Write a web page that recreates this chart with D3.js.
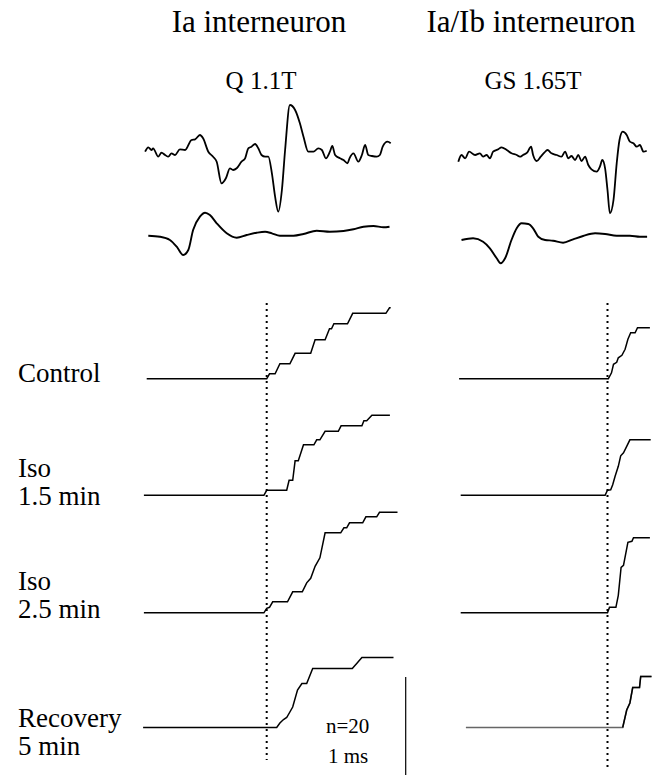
<!DOCTYPE html>
<html><head><meta charset="utf-8">
<script src="https://cdn.jsdelivr.net/npm/d3@7"></script>
<style>body{margin:0;background:#fff}svg{display:block}</style>
</head><body><svg id="c" width="653" height="775"></svg>
<script>
// ---- DATA (time in ms relative to dotted reference line) ----
const columns = ["Ia interneuron", "Ia/Ib interneuron"];
const stimuli = ["Q 1.1T", "GS 1.65T"];
const conditions = [["Control"], ["Iso", "1.5 min"], ["Iso", "2.5 min"], ["Recovery", "5 min"]];
const nResponses = 20;

// unit recordings (arbitrary amplitude units)
const iaUnit = [[-3.04,0.3],[-2.96,4.7],[-2.88,2],[-2.84,3.7],[-2.71,-4.7],[-2.63,-0.7],[-2.54,-3],[-2.46,-4.7],[-2.38,-1.3],[-2.29,-3],[-2.17,2.7],[-2.04,2],[-1.88,12],[-1.79,12.7],[-1.67,17],[-1.59,13.7],[-1.46,0.3],[-1.34,-4.7],[-1.25,-9.7],[-1.13,-31.3],[-1.02,-26.3],[-0.92,-16.3],[-0.84,-18],[-0.75,-16.3],[-0.63,-9.7],[-0.54,-6.3],[-0.46,3.7],[-0.38,5.3],[-0.29,8],[-0.21,3.7],[-0.13,-3],[-0.04,-4.7],[0.04,-4.7],[0.13,-21.3],[0.21,-44.7],[0.29,-59.7],[0.38,-38],[0.46,2],[0.58,47],[0.71,42],[0.83,28.7],[0.92,15.3],[1.04,0.3],[1.17,0.3],[1.29,3.7],[1.38,2],[1.48,-6.3],[1.58,0.3],[1.64,6],[1.71,-3],[1.83,-6.3],[1.92,-8],[2.02,-11.3],[2.07,-6.3],[2.17,-1.3],[2.29,-9.7],[2.38,-3],[2.46,7],[2.54,-3],[2.63,-4],[2.75,-4.7],[2.83,-3],[2.9,5.3],[3.02,10.3],[3.1,8.7]];
const iaVolley = [[-2.96,0.3],[-2.67,-0.7],[-2.42,-4],[-2.25,-10.7],[-2.09,-19],[-1.96,-14],[-1.84,6],[-1.67,19.3],[-1.54,23.3],[-1.42,21],[-1.25,12.7],[-1.0,2.7],[-0.75,-1.7],[-0.5,1],[-0.25,3.3],[-0.04,4.3],[0.13,2.7],[0.33,0.3],[0.67,0.3],[0.92,2],[1.25,5.3],[1.58,4.3],[1.92,5],[2.17,6.7],[2.42,9.3],[2.67,10],[2.92,8.7],[3.07,9.3]];
const iaibUnit = [[-3.73,-6.7],[-3.65,0],[-3.56,-3.3],[-3.46,3.3],[-3.31,0],[-3.19,1.7],[-3.11,-1.7],[-3.02,0],[-2.94,-3.3],[-2.86,3.3],[-2.73,5.7],[-2.65,7.7],[-2.52,5],[-2.4,1.7],[-2.27,0],[-2.19,-1.7],[-2.11,0],[-2.01,2.3],[-1.91,8.3],[-1.86,0],[-1.77,-6],[-1.67,-1.7],[-1.58,2.3],[-1.5,5],[-1.4,1.7],[-1.27,0],[-1.15,-1.7],[-1.06,3.3],[-0.98,-3.3],[-0.9,-1],[-0.81,-5],[-0.73,0],[-0.65,-6],[-0.56,-1.7],[-0.48,-10],[-0.4,-14.3],[-0.27,-16.7],[-0.19,-11.7],[-0.13,-5],[-0.06,-13.3],[0,-35],[0.06,-58.3],[0.15,-45],[0.23,-8.3],[0.3,15],[0.38,23.3],[0.48,20],[0.56,13.3],[0.65,11.7],[0.73,8.3],[0.81,10],[0.9,3.3],[0.98,4.3]];
const iaibVolley = [[-3.65,-2],[-3.36,-0.3],[-3.11,-3.7],[-2.94,-10.3],[-2.77,-20.3],[-2.67,-25.3],[-2.56,-20.3],[-2.4,-2],[-2.27,9.7],[-2.15,14.7],[-1.98,14],[-1.86,9.7],[-1.73,1.3],[-1.56,-2],[-1.36,-2.7],[-1.11,-4.7],[-0.86,-1.3],[-0.61,2],[-0.31,4.7],[-0.06,4],[0.23,2.3],[0.56,2.3],[0.81,1.3],[0.99,1.3]];

// cumulative spike counts (n of 20 responses)
const iaControl = [[-3.0,0],[0,0],[0.07,1],[0.21,1],[0.33,3],[0.58,3],[0.71,5.1],[1.1,5.1],[1.21,7.8],[1.46,7.8],[1.57,10],[1.62,10],[1.68,11],[2.02,11],[2.15,13.1],[2.98,13.1],[3.07,14.2],[3.1,14.2]];
const iaIso15 = [[-3.07,0],[-0.07,0],[0,1],[0.5,1],[0.56,3],[0.65,3],[0.71,6.9],[0.79,6.9],[0.92,10.1],[1.18,10.1],[1.25,11.1],[1.33,11.1],[1.46,12.8],[1.79,12.8],[1.86,13.9],[2.38,13.9],[2.43,14.9],[2.5,14.9],[2.63,16],[3.08,16]];
const iaIso25 = [[-3.07,0],[-0.07,0],[0,0.9],[0.07,1.1],[0.15,2.2],[0.52,2.2],[0.65,4.2],[0.89,4.2],[1.0,6],[1.1,6.9],[1.21,9.3],[1.33,11],[1.46,16],[1.85,16],[1.93,17],[2.0,17],[2.07,18],[2.4,18],[2.48,19.2],[2.75,19.2],[2.82,20.1],[3.27,20.1]];
const iaRecovery = [[-3.09,0],[0.25,0],[0.33,0.9],[0.42,1.6],[0.5,2],[0.65,4.1],[0.77,7.5],[0.88,8.8],[1.0,8.8],[1.15,11.8],[2.14,11.8],[2.25,12.8],[2.38,14],[3.17,14]];
const iaibControl = [[-3.71,0],[0.02,0],[0.1,1.2],[0.15,2.9],[0.23,3.3],[0.27,4.2],[0.36,4.7],[0.44,5.9],[0.51,7.9],[0.58,9.2],[0.69,9.2],[0.75,10.2],[1.06,10.2]];
const iaibIso15 = [[-3.67,0],[-0.06,0],[0,1],[0.08,1.1],[0.13,2.1],[0.19,3.8],[0.27,5.8],[0.33,7.9],[0.4,8.5],[0.48,9.8],[0.56,11.1],[1.08,11.1]];
const iaibIso25 = [[-3.67,0],[0,0],[0.05,1.1],[0.21,1.1],[0.27,3.5],[0.34,9.1],[0.4,9.5],[0.51,14.1],[0.61,14.3],[0.65,15],[1.06,15]];
const iaibRecovery = [[-3.54,0],[0.38,0],[0.48,3.5],[0.56,4.9],[0.63,8],[0.8,8],[0.83,10.2],[1.1,10.2]];

// ---- LAYOUT ----
const FONT = "'Liberation Serif', 'Tinos', 'Times New Roman', 'DejaVu Serif', serif";
const svg = d3.select("#c");
const pxPerMs = 40;
const panels = [
  {x: d3.scaleLinear().domain([0, 1]).range([266.7, 266.7 + pxPerMs]), title: columns[0], stim: stimuli[0],
   unit: iaUnit, volley: iaVolley, cum: [iaControl, iaIso15, iaIso25, iaRecovery], titleX: 259, stimX: 261, unitY: 152, volleyY: 236},
  {x: d3.scaleLinear().domain([0, 1]).range([607.5, 607.5 + pxPerMs]), title: columns[1], stim: stimuli[1],
   unit: iaibUnit, volley: iaibVolley, cum: [iaibControl, iaibIso15, iaibIso25, iaibRecovery], titleX: 531, stimX: 533, unitY: 155, volleyY: 238}
];
const rowBase = [378.8, 495.3, 612.8, 727.5];
const countH = 100; // px for nResponses

function txt(x, y, size, s, anchor) {
  return svg.append("text").attr("x", x).attr("y", y).attr("font-size", size)
    .attr("font-family", FONT).attr("fill", "#000").attr("text-anchor", anchor || "start").text(s);
}

panels.forEach((p, i) => {
  txt(p.titleX, 32, 31, p.title, "middle");
  txt(p.stimX, 89, 25, p.stim, "middle");

  const yU = d3.scaleLinear().domain([0, 1]).range([p.unitY, p.unitY - 1]);
  svg.append("path").datum(p.unit)
    .attr("d", d3.line().x(d => p.x(d[0])).y(d => yU(d[1])).curve(d3.curveMonotoneX))
    .attr("fill", "none").attr("stroke", "#000").attr("stroke-width", 1.8).attr("stroke-linejoin", "round");
  const yV = d3.scaleLinear().domain([0, 1]).range([p.volleyY, p.volleyY - 1]);
  svg.append("path").datum(p.volley)
    .attr("d", d3.line().x(d => p.x(d[0])).y(d => yV(d[1])).curve(d3.curveMonotoneX))
    .attr("fill", "none").attr("stroke", "#000").attr("stroke-width", 1.9);

  p.cum.forEach((data, r) => {
    const y = d3.scaleLinear().domain([0, nResponses]).range([rowBase[r], rowBase[r] - countH]);
    const grey = (i === 1 && r === 3);
    svg.append("path").datum(data)
      .attr("d", d3.line().x(d => p.x(d[0])).y(d => y(d[1])))
      .attr("fill", "none").attr("stroke", grey ? "#666" : "#000").attr("stroke-width", 1.5);
    if (grey) {
      svg.append("path").datum(data.filter(d => d[1] > 0 || d[0] > 0.3))
        .attr("d", d3.line().x(d => p.x(d[0])).y(d => y(d[1])))
        .attr("fill", "none").attr("stroke", "#000").attr("stroke-width", 1.5);
    }
  });

  // reference dotted line at t = 0
  svg.append("line").attr("x1", p.x(0)).attr("x2", p.x(0))
    .attr("y1", 303).attr("y2", i === 0 ? 760 : 770)
    .attr("stroke", "#000").attr("stroke-width", 2).attr("stroke-dasharray", "2,4");
});

// row labels
conditions.forEach((lines, r) => {
  const base = r === 0 ? [381.5] : [[477, 505], [590, 618], [727, 755]][r - 1];
  lines.forEach((t, k) => txt(18, base[k], 27, t));
});

// scale bar (n = 20)
const yBar = d3.scaleLinear().domain([0, nResponses]).range([777, 777 - countH]);
svg.append("line").attr("x1", 405.7).attr("x2", 405.7).attr("y1", yBar(0)).attr("y2", yBar(nResponses))
  .attr("stroke", "#000").attr("stroke-width", 1.2);
txt(326, 733, 21, "n=" + nResponses);
txt(328, 763, 21, "1 ms");
</script></body></html>
